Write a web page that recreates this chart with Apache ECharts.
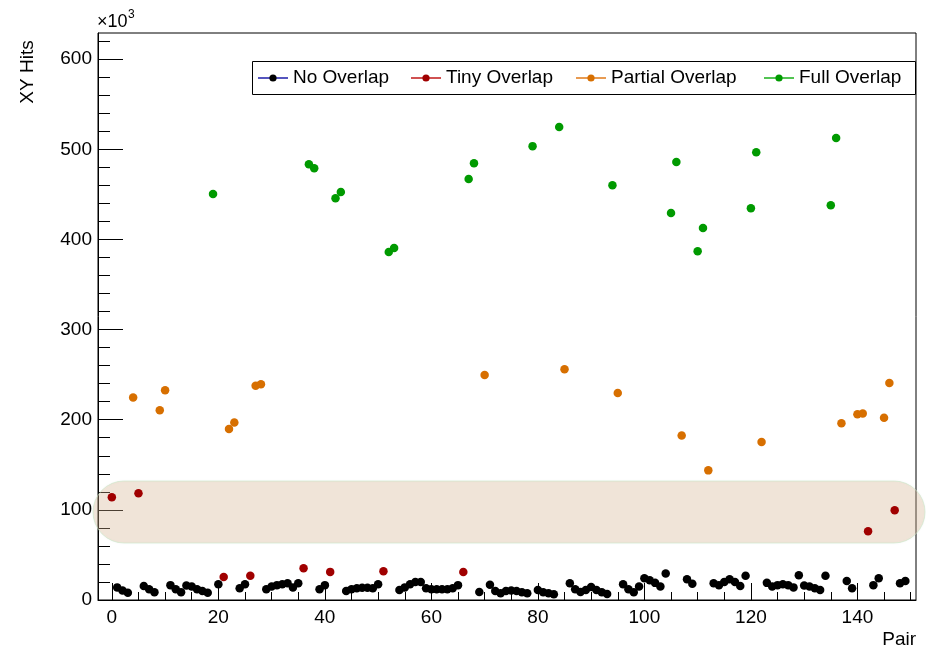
<!DOCTYPE html>
<html>
<head>
<meta charset="utf-8">
<script src="https://cdn.jsdelivr.net/npm/echarts@6/dist/echarts.min.js"></script>
<style>
html,body{margin:0;padding:0;background:#fff;}
#chart{width:926px;height:651px;}
</style>
</head>
<body>
<div id="chart"></div>
<script>
// ---------------- data (XY hits in units of 10^3) ----------------
const noOverlapPairs = [1,2,3,6,7,8,11,12,13,14,15,16,17,18,20,24,25,29,30,31,32,33,34,35,39,40,44,45,46,47,48,49,50,54,55,56,57,58,59,60,61,62,63,64,65,69,71,72,73,74,75,76,77,78,80,81,82,83,86,87,88,89,90,91,92,93,96,97,98,99,100,101,102,103,104,108,109,113,114,115,116,117,118,119,123,124,125,126,127,128,129,130,131,132,133,134,138,139,143,144,148,149];
const noOverlapHits = [14,10.5,8,15.5,12,8.5,16.5,12,8.5,16,15,12,10,8,17.5,13,17.5,12,15,16.5,17.5,18.5,14,18.5,12,16.5,10,12,13,13.5,13.5,13,17.5,11,14,17.5,20,20,13,12,12,12,12,13,16.5,9,17,10,7.5,10,10.5,10,8.5,7.5,11,8.5,7.5,6.5,18.5,12,9,11,14.5,11,8.5,6.7,17.5,12,8.5,15,24,22,19,15,29.5,23,18,18.5,16.5,20,23,20,15.5,27,19,15,16.5,17.5,16.5,14,27.5,16,15,13,11,27,21,13,16.5,24,18.5,21];

const tinyOverlapPairs = [0,5,21,26,36,41,51,66,142,147];
const tinyOverlapHits  = [114,118.5,25.5,26.8,35.3,31.2,32,31,76.3,99.5];

const partialOverlapPairs = [4,9,10,22,23,27,28,70,85,95,107,112,122,137,140,141,145,146];
const partialOverlapHits  = [224.6,210.5,232.7,189.8,197,237.8,239.3,249.5,256,229.6,182.6,143.8,175.2,196,206,207,202.2,240.7];

const fullOverlapPairs = [19,37,38,42,43,52,53,67,68,79,84,94,105,106,110,111,120,121,135,136];
const fullOverlapHits  = [450.3,483.5,479,445.8,452.5,386,390.4,467,484.6,503.5,524.6,460.2,429.2,485.8,387,412.6,434.7,496.8,438,512.4];

const seriesNames = ['No Overlap','Tiny Overlap','Partial Overlap','Full Overlap'];
const xTickLabels = [0,20,40,60,80,100,120,140];
const xMinorTicks = [0,5,10,15,20,25,30,35,40,45,50,55,60,65,70,75,80,85,90,95,100,105,110,115,120,125,130,135,140,145,150];
const yTickLabels = [0,100,200,300,400,500,600];
const yMinorTicks = [0,20,40,60,80,100,120,140,160,180,200,220,240,260,280,300,320,340,360,380,400,420,440,460,480,500,520,540,560,580,600,620];

// ---------------- styles ----------------
const FONT = "'Liberation Sans', Arial, Helvetica, sans-serif";
const dotColors  = ['#000000','#a00000','#d76f00','#009a00'];
const lineColors = ['#1c1ca8','#c01818','#e07a18','#18b018'];

function zip(a,b){ return a.map((v,i)=>[v,b[i]]); }
const seriesData = [
  zip(noOverlapPairs, noOverlapHits),
  zip(tinyOverlapPairs, tinyOverlapHits),
  zip(partialOverlapPairs, partialOverlapHits),
  zip(fullOverlapPairs, fullOverlapHits)
];

const X_MIN = -2.6, X_MAX = 151, Y_MIN = 0, Y_MAX = 629;

const chart = echarts.init(document.getElementById('chart'), null, {renderer:'canvas'});

// legend built from graphic elements (line + marker + text)
const legendEntries = [
  {lineX:258, textX:293},
  {lineX:411, textX:446},
  {lineX:576, textX:611},
  {lineX:764, textX:799}
];
const LEG_Y = 78;
const legendGraphics = [{
  type:'rect', z:10,
  shape:{x:252.5, y:61.5, width:663, height:33},
  style:{fill:'#fff', stroke:'#000', lineWidth:1}
}];
legendEntries.forEach((e,i)=>{
  legendGraphics.push({type:'line', z:11, shape:{x1:e.lineX, y1:LEG_Y, x2:e.lineX+30, y2:LEG_Y}, style:{stroke:lineColors[i], lineWidth:1.5}});
  legendGraphics.push({type:'circle', z:12, shape:{cx:e.lineX+15, cy:LEG_Y, r:3.6}, style:{fill:dotColors[i]}});
  legendGraphics.push({type:'text', z:12, x:e.textX, y:LEG_Y, style:{text:seriesNames[i], font:'19px '+FONT, fill:'#000', textVerticalAlign:'middle', textAlign:'left'}});
});

const option = {
  animation:false,
  backgroundColor:'#fff',
  grid:{left:98, right:10, top:33, bottom:51, show:true, borderColor:'#000', borderWidth:1, backgroundColor:'transparent'},
  xAxis:[{
    type:'value', min:X_MIN, max:X_MAX, position:'bottom',
    axisLine:{show:true, onZero:false, lineStyle:{color:'#000', width:1}},
    axisTick:{show:true, inside:true, length:17, customValues:xTickLabels, lineStyle:{color:'#000', width:1}},
    axisLabel:{show:true, customValues:xTickLabels, margin:8, color:'#000', fontSize:19, fontFamily:FONT},
    splitLine:{show:false}
  },{
    type:'value', min:X_MIN, max:X_MAX, position:'bottom',
    axisLine:{show:false, onZero:false},
    axisTick:{show:true, inside:true, length:8, customValues:xMinorTicks, lineStyle:{color:'#000', width:1}},
    axisLabel:{show:false},
    splitLine:{show:false}
  }],
  yAxis:[{
    type:'value', min:Y_MIN, max:Y_MAX, position:'left',
    axisLine:{show:true, onZero:false, lineStyle:{color:'#000', width:1}},
    axisTick:{show:true, inside:true, length:25, customValues:yTickLabels, lineStyle:{color:'#000', width:1}},
    axisLabel:{show:true, customValues:yTickLabels, margin:6, color:'#000', fontSize:19, fontFamily:FONT},
    splitLine:{show:false}
  },{
    type:'value', min:Y_MIN, max:Y_MAX, position:'left',
    axisLine:{show:false, onZero:false},
    axisTick:{show:true, inside:true, length:12, customValues:yMinorTicks, lineStyle:{color:'#000', width:1}},
    axisLabel:{show:false},
    splitLine:{show:false}
  }],
  series: seriesNames.map((name,i)=>({
    name:name, type:'scatter', xAxisIndex:0, yAxisIndex:0,
    symbol:'circle', symbolSize:8.5, z:3+i,
    itemStyle:{color:dotColors[i], opacity:1},
    emphasis:{disabled:true},
    data:seriesData[i]
  })),
  graphic:[
    {type:'rect', z:1, silent:true,
     shape:{x:93, y:481, width:832, height:62, r:31},
     style:{fill:'rgba(220,186,150,0.34)', stroke:'rgba(200,232,200,0.6)', lineWidth:1, shadowBlur:3, shadowColor:'rgba(0,0,0,0.06)'}},
    {type:'text', z:5, x:28, y:72, rotation:Math.PI/2,
     style:{text:'XY Hits', font:'19px '+FONT, fill:'#000', textAlign:'center', textVerticalAlign:'middle'}},
    {type:'text', z:5, x:916, y:640,
     style:{text:'Pair', font:'19px '+FONT, fill:'#000', textAlign:'right', textVerticalAlign:'middle'}},
    {type:'text', z:5, x:97, y:22,
     style:{text:'×10', font:'18px '+FONT, fill:'#000', textAlign:'left', textVerticalAlign:'middle'}},
    {type:'text', z:5, x:128, y:15,
     style:{text:'3', font:'12px '+FONT, fill:'#000', textAlign:'left', textVerticalAlign:'middle'}}
  ].concat(legendGraphics)
};
chart.setOption(option);
</script>
</body>
</html>
